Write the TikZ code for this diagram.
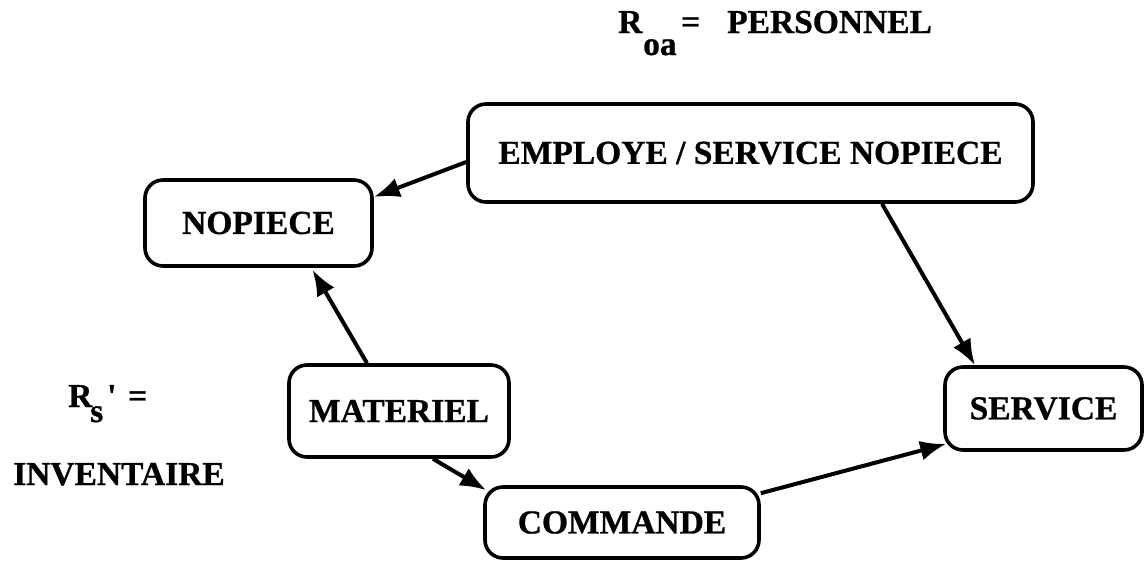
\documentclass[tikz,border=0pt]{standalone}
\usepackage{fontspec}
\setmainfont{Liberation Serif}[BoldFeatures={FakeBold=0.8}]
\usetikzlibrary{arrows.meta}
\begin{document}
\begin{tikzpicture}[x=1pt,y=-1pt,
  every node/.style={font=\fontsize{33.5}{36}\selectfont\bfseries},
  ebox/.style={draw,line width=3.6pt,rounded corners=18pt,inner sep=0pt,align=center},
  lbl/.style={anchor=base west,inner sep=0pt},
  conn/.style={line width=4pt,-{Latex[length=26pt,width=20pt]}}]
\useasboundingbox (0,0) rectangle (1145,560);
\node[ebox,minimum width=565pt,minimum height=98pt] (emp) at (750.5,153) {EMPLOYE / SERVICE NOPIECE};
\node[ebox,minimum width=227pt,minimum height=86pt] (nop) at (258.5,223) {NOPIECE};
\node[ebox,minimum width=220pt,minimum height=92pt] (mat) at (399,411) {MATERIEL};
\node[ebox,minimum width=274pt,minimum height=71pt] (com) at (622,522.5) {COMMANDE};
\node[ebox,minimum width=197pt,minimum height=83pt] (ser) at (1043.5,408.5) {SERVICE};
% labels
\node[lbl] (r1) at (618,33) {R};
\node[lbl] (r1s) at (643,55) {oa};
\node[lbl] (r1e) at (681,33) {=};
\node[lbl] (r1t) at (727,33) {PERSONNEL};
\node[lbl] (r2) at (68,407) {R};
\node[lbl] (r2s) at (90,422) {s};
\node[lbl] (r2p) at (107,407) {\textquotesingle};
\node[lbl] (r2e) at (128,407) {=};
\node[lbl] (r2t) at (13,485) {INVENTAIRE};
% connectors
\draw[conn] ([yshift=-9pt]emp.west) -- ([yshift=26pt]nop.east);
\draw[conn] ([xshift=-32pt]mat.north) -- ([xshift=54pt,yshift=-2pt]nop.south);
\draw[conn] ([xshift=34pt]mat.south) -- ([xshift=3pt,yshift=-5pt]com.north west);
\draw[conn] ([yshift=-8pt]com.north east) -- ([xshift=3pt,yshift=8pt]ser.south west);
\draw[conn] ([xshift=131.5pt]emp.south) -- ([xshift=-68.5pt]ser.north);
\end{tikzpicture}
\end{document}
